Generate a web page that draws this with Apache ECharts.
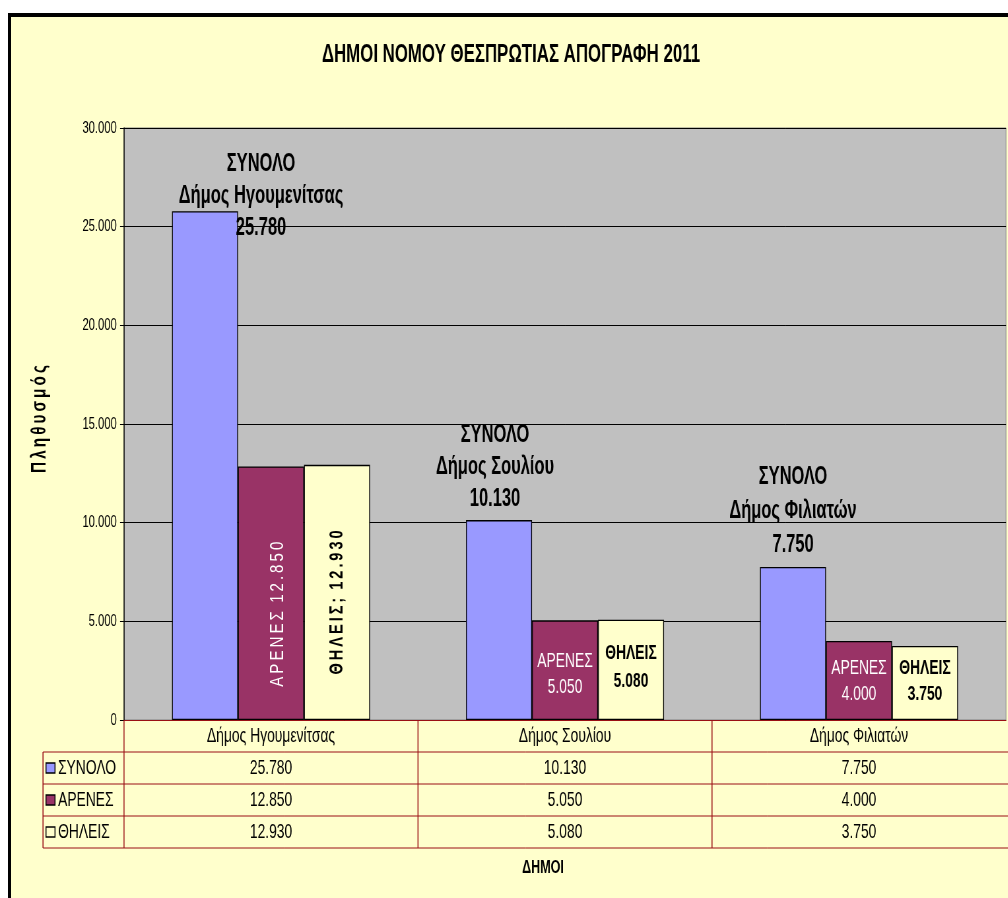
<!DOCTYPE html>
<html><head><meta charset="utf-8">
<script src="https://cdn.jsdelivr.net/npm/echarts@6/dist/echarts.min.js"></script>
<style>
html,body{margin:0;padding:0;width:1008px;height:898px;overflow:hidden;background:#fff;}
#frame{position:absolute;left:8px;top:13px;width:1100px;height:1000px;background:#FFFFCC;border-left:3px solid #000;border-top:4px solid #000;}
#chart{position:absolute;left:0;top:0;width:1528px;height:898px;transform:scaleX(0.66);transform-origin:0 0;}
</style></head><body>
<div id="frame"></div><div id="chart"></div>
<script>
// ---- data ----
const chartTitle = 'ΔΗΜΟΙ ΝΟΜΟΥ ΘΕΣΠΡΩΤΙΑΣ ΑΠΟΓΡΑΦΗ 2011';
const categories = ['Δήμος Ηγουμενίτσας', 'Δήμος Σουλίου', 'Δήμος Φιλιατών'];
const seriesNames = ['ΣΥΝΟΛΟ', 'ΑΡΕΝΕΣ', 'ΘΗΛΕΙΣ'];
const totalValues = [25780, 10130, 7750];
const maleValues = [12850, 5050, 4000];
const femaleValues = [12930, 5080, 3750];
const yTicks = [0, 5000, 10000, 15000, 20000, 25000, 30000];
const yAxisTitle = 'Πληθυσμός';
const xAxisTitle = 'ΔΗΜΟΙ';

// ---- style ----
const SX = 0.66;                 // horizontal compression of the whole drawing
const V = x => x / SX;           // screen x -> drawing x
const W = 1528, H = 898;
const FONT = "'Liberation Sans', Arial, Helvetica, sans-serif";
const colors = ['#9999FF', '#993366', '#FFFFCC'];
const tableLine = '#9A0F14';

const fmt = v => String(v).replace(/\B(?=(\d{3})+(?!\d))/g, '.');
const spaced = s => s.split('').join('\u2009');

const chart = echarts.init(document.getElementById('chart'), null, {renderer: 'canvas', width: W, height: H});

const totalOffsets = [[V(56), 38], [V(-4), 0], [0, 0]];
const totalLineH = [32, 32, 34];
const maleDist = [0, 20, 13];
const maleLineH = [26, 26, 26];
const femaleDist = [0, 25, 13];
const femaleLineH = [28, 28, 26];

const option = {
  animation: false,
  grid: {left: V(124), right: W - V(1006), top: 128, bottom: H - 720, show: true,
         backgroundColor: '#C0C0C0', borderColor: '#808080', borderWidth: 1},
  xAxis: {type: 'category', data: categories,
          axisLine: {show: true, lineStyle: {color: tableLine, width: 1}},
          axisTick: {show: false}, axisLabel: {show: false}, splitLine: {show: false}},
  yAxis: {type: 'value', min: yTicks[0], max: yTicks[yTicks.length - 1], interval: yTicks[1] - yTicks[0],
          axisLine: {show: true, lineStyle: {color: '#000', width: 1.5}},
          axisTick: {show: true, length: 6, lineStyle: {color: '#000', width: 1}},
          axisLabel: {formatter: fmt, fontFamily: FONT, fontSize: 17, color: '#000', margin: 11},
          splitLine: {show: true, lineStyle: {color: '#000', width: 1}}},
  series: [
    {name: seriesNames[0], type: 'bar', barWidth: V(66), barGap: '0%',
     itemStyle: {color: colors[0], borderColor: '#000', borderWidth: 1.3},
     data: totalValues.map((v, i) => ({value: v, label: {offset: totalOffsets[i], lineHeight: totalLineH[i]}})),
     label: {show: true, position: 'top', distance: 5, align: 'center',
             formatter: p => seriesNames[0] + '\n' + p.name + '\n' + fmt(p.value),
             fontFamily: FONT, fontWeight: 'bold', fontSize: 25, color: '#000'}},
    {name: seriesNames[1], type: 'bar', barWidth: V(66), barGap: '0%',
     itemStyle: {color: colors[1], borderColor: '#000', borderWidth: 1.3},
     data: maleValues.map((v, i) => ({value: v, label: i === 0 ? {show: false} : {distance: maleDist[i], lineHeight: maleLineH[i]}})),
     label: {show: true, position: 'insideBottom',
             formatter: p => seriesNames[1] + '\n' + fmt(p.value),
             fontFamily: FONT, fontSize: 21, color: '#fff'}},
    {name: seriesNames[2], type: 'bar', barWidth: V(66), barGap: '0%',
     itemStyle: {color: colors[2], borderColor: '#000', borderWidth: 1.3},
     data: femaleValues.map((v, i) => ({value: v, label: i === 0 ? {show: false} : {distance: femaleDist[i], lineHeight: femaleLineH[i]}})),
     label: {show: true, position: 'insideBottom',
             formatter: p => seriesNames[2] + '\n' + fmt(p.value),
             fontFamily: FONT, fontWeight: 'bold', fontSize: 21, color: '#000'}}
  ]
};
chart.setOption(option);

// ---- helpers for measured rotated texts ----
const mctx = document.createElement('canvas').getContext('2d');
function textW(txt, font) { mctx.font = font; return mctx.measureText(txt).width; }
function rotText(txt, x, y, font, fill, targetLen, hScale) {
  const w = textW(txt, font);
  return {type: 'text', x: x, y: y, rotation: Math.PI / 2, scaleX: targetLen / w, scaleY: hScale / SX, z: 100,
          style: {text: txt, font: font, fill: fill, align: 'center', verticalAlign: 'middle'}};
}

const g = [];
// title
g.push({type: 'text', x: V(511), y: 55, z: 100,
        style: {text: chartTitle, font: 'bold 25.5px ' + FONT, fill: '#000', align: 'center', verticalAlign: 'middle'}});
// y axis title
const yMid = (chart.convertToPixel({yAxisIndex: 0}, yTicks[0]) + chart.convertToPixel({yAxisIndex: 0}, yTicks[yTicks.length - 1])) / 2;
g.push(rotText(spaced(yAxisTitle), V(40), yMid - 5, 'bold 18px ' + FONT, '#000', 108, 1.15));

// rotated labels inside first category bars
const c0 = chart.convertToPixel({xAxisIndex: 0}, 0);
const c1 = chart.convertToPixel({xAxisIndex: 0}, 1);
const band = c1 - c0;
const bw = V(66);
const y0 = chart.convertToPixel({yAxisIndex: 0}, 0);
const ym = chart.convertToPixel({yAxisIndex: 0}, maleValues[0]);
const yf = chart.convertToPixel({yAxisIndex: 0}, femaleValues[0]);
g.push(rotText(spaced(seriesNames[1]) + '  ' + spaced(fmt(maleValues[0])), c0 + V(6.5), (y0 + ym) / 2 + 21,
               '20px ' + FONT, '#fff', 145, 1.0));
g.push(rotText(spaced(seriesNames[2] + ';') + '  ' + spaced(fmt(femaleValues[0])), c0 + bw, (y0 + yf) / 2 + 10,
               'bold 20px ' + FONT, '#000', 144, 1.0));

// ---- data table ----
const rowTop = 720, rowH = 32;
const tblLeft = V(43);
const ln = (x1, y1, x2, y2, w) => ({type: 'line', z: 50, shape: {x1, y1, x2, y2}, style: {stroke: tableLine, lineWidth: w}});
for (let r = 1; r <= 4; r++) g.push(ln(tblLeft, rowTop + r * rowH, W, rowTop + r * rowH, 1));
g.push(ln(tblLeft, rowTop + rowH, tblLeft, rowTop + 4 * rowH, 1.5));
categories.forEach((c, i) => {
  const cx = chart.convertToPixel({xAxisIndex: 0}, i);
  g.push(ln(cx - band / 2, rowTop, cx - band / 2, rowTop + 4 * rowH, 1.5));
  g.push({type: 'text', x: cx, y: rowTop + rowH / 2, z: 60,
          style: {text: c, font: '21px ' + FONT, fill: '#000', align: 'center', verticalAlign: 'middle'}});
});
const rows = [totalValues, maleValues, femaleValues];
rows.forEach((vals, k) => {
  const cy = rowTop + (k + 1.5) * rowH;
  g.push({type: 'rect', z: 60, shape: {x: V(46), y: cy - 5, width: V(9), height: 10},
          style: {fill: colors[k], stroke: '#000', lineWidth: 1.5}});
  g.push({type: 'text', x: V(58), y: cy, z: 60,
          style: {text: seriesNames[k], font: '21px ' + FONT, fill: '#000', align: 'left', verticalAlign: 'middle'}});
  vals.forEach((v, i) => {
    const cx = chart.convertToPixel({xAxisIndex: 0}, i);
    g.push({type: 'text', x: cx, y: cy, z: 60,
            style: {text: fmt(v), font: '21px ' + FONT, fill: '#000', align: 'center', verticalAlign: 'middle'}});
  });
});
// x axis title
g.push({type: 'text', x: V(543), y: 868, z: 60,
        style: {text: xAxisTitle, font: 'bold 19px ' + FONT, fill: '#000', align: 'center', verticalAlign: 'middle'}});

chart.setOption({graphic: {elements: g}});
</script>
</body></html>
